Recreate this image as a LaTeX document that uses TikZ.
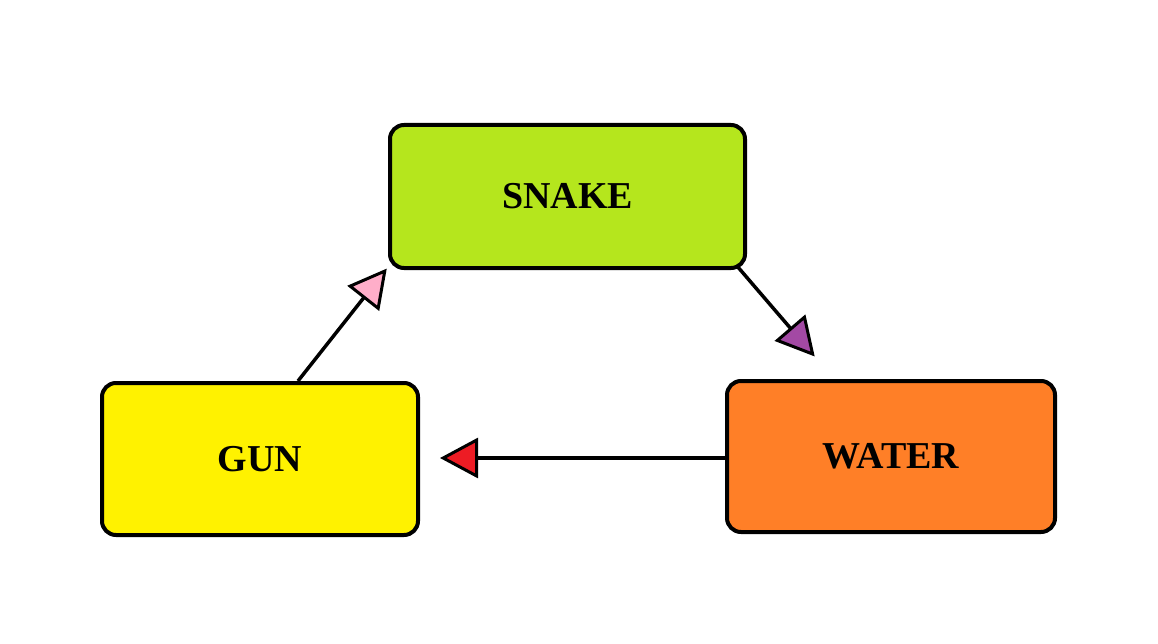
\documentclass[tikz,border=0pt]{standalone}
\usepackage{fontspec}
\setmainfont{Liberation Serif}
\usetikzlibrary{arrows.meta}
\begin{document}
\begin{tikzpicture}[x=1pt,y=-1pt,
  box/.style={draw=black,line width=4pt,rounded corners=14pt,inner sep=0pt,font=\fontsize{38}{40}\selectfont\bfseries},
  conn/.style={line width=3.5pt,shorten >=2pt}]
\useasboundingbox (0,0) rectangle (1158,644);
\definecolor{cgreen}{HTML}{B5E61D}
\definecolor{cyellow}{HTML}{FFF200}
\definecolor{corange}{HTML}{FF7F27}
\definecolor{cpink}{HTML}{FFAEC9}
\definecolor{cpurple}{HTML}{A349A4}
\definecolor{cred}{HTML}{ED1C24}
\node[box,fill=cgreen,minimum width=355pt,minimum height=143pt] (snake) at (567.5,196.5) {SNAKE};
\node[box,fill=cyellow,minimum width=316pt,minimum height=152pt] (gun) at (260,459) {GUN};
\node[box,fill=corange,minimum width=328pt,minimum height=151pt] (water) at (891,456.5) {WATER};
\coordinate (gunT) at (298,381);
\coordinate (pinkT) at (388,267);
\coordinate (snB) at (737,266);
\coordinate (purT) at (816,358);
\coordinate (watL) at (727,458);
\coordinate (redT) at (438,458);
\draw[conn,-{Triangle[length=38pt,width=40pt,fill=cpink,line width=3pt]}] (gunT) -- (pinkT);
\draw[conn,-{Triangle[length=38pt,width=40pt,fill=cpurple,line width=3pt]}] (snB) -- (purT);
\draw[conn,-{Triangle[length=38pt,width=40pt,fill=cred,line width=3pt]}] (watL) -- (redT);
\end{tikzpicture}
\end{document}
